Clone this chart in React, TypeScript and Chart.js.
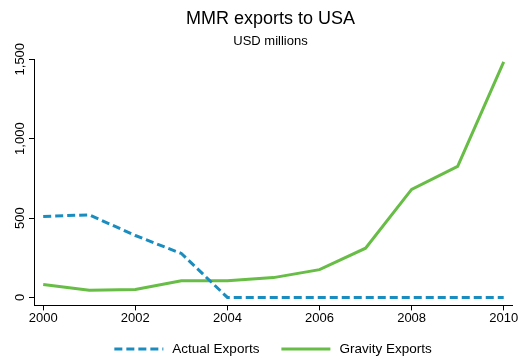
import React, { useEffect, useRef } from "react";
import { Chart, registerables } from "chart.js";

Chart.register(...registerables);

const years = [2000, 2001, 2002, 2003, 2004, 2005, 2006, 2007, 2008, 2009, 2010];
const actualExports = [510, 520, 390, 277, 0, 0, 0, 0, 0, 0, 0];
const gravityExports = [82, 45, 50, 105, 105, 125, 175, 310, 680, 825, 1483];
const yTicks = [0, 500, 1000, 1500];
const xTicks = [2000, 2002, 2004, 2006, 2008, 2010];
const titleText = "MMR exports to USA";
const subtitleText = "USD millions";

const FONT = "'Liberation Sans', Arial, Helvetica, sans-serif";
const BLUE = "#1a8dc0";
const GREEN = "#67bd45";

const yLabelPlugin = {
  id: "yRotLabels",
  afterDraw(chart: any) {
    const ctx = chart.ctx;
    const y = chart.scales.y;
    ctx.save();
    ctx.fillStyle = "#000";
    ctx.font = `13px ${FONT}`;
    ctx.textAlign = "center";
    ctx.textBaseline = "middle";
    for (const v of yTicks) {
      const py = y.getPixelForValue(v);
      ctx.save();
      ctx.translate(20, py);
      ctx.rotate(-Math.PI / 2);
      ctx.fillText(v.toLocaleString("en-US"), 0, 0);
      ctx.restore();
    }
    ctx.restore();
  },
};

const legendPlugin = {
  id: "customLegend",
  afterDraw(chart: any) {
    const ctx = chart.ctx;
    const lineLen = 49;
    const gapText = 9;
    const gapItem = 22;
    const cy = 349;
    ctx.save();
    ctx.font = `13.5px ${FONT}`;
    const items = chart.data.datasets.map((d: any) => ({
      label: d.label,
      color: d.borderColor,
      dash: d.borderDash || [],
      w: lineLen + gapText + ctx.measureText(d.label).width,
    }));
    const total = items.reduce((s: number, it: any) => s + it.w, 0) + gapItem * (items.length - 1);
    const center = (chart.chartArea.left + chart.chartArea.right) / 2;
    let x = center - total / 2;
    for (const it of items) {
      ctx.strokeStyle = it.color;
      ctx.lineWidth = 3;
      ctx.setLineDash(it.dash);
      ctx.beginPath();
      ctx.moveTo(x, cy);
      ctx.lineTo(x + lineLen, cy);
      ctx.stroke();
      ctx.setLineDash([]);
      ctx.fillStyle = "#000";
      ctx.textAlign = "left";
      ctx.textBaseline = "middle";
      ctx.fillText(it.label, x + lineLen + gapText, cy);
      x += it.w + gapItem;
    }
    ctx.restore();
  },
};

export default function App() {
  const ref = useRef<HTMLCanvasElement>(null);
  useEffect(() => {
    document.body.style.margin = "0";
    const chart = new Chart(ref.current!, {
      type: "line",
      data: {
        datasets: [
          {
            label: "Actual Exports",
            data: years.map((x, i) => ({ x, y: actualExports[i] })),
            borderColor: BLUE,
            backgroundColor: BLUE,
            borderWidth: 3,
            borderDash: [8, 4],
            pointRadius: 0,
            tension: 0,
          },
          {
            label: "Gravity Exports",
            data: years.map((x, i) => ({ x, y: gravityExports[i] })),
            borderColor: GREEN,
            backgroundColor: GREEN,
            borderWidth: 3,
            pointRadius: 0,
            tension: 0,
          },
        ],
      },
      options: {
        animation: false,
        responsive: false,
        maintainAspectRatio: false,
        layout: { padding: { left: 29, right: 9, top: 0, bottom: 34 } },
        plugins: {
          title: {
            display: true,
            text: titleText,
            color: "#000",
            font: { family: FONT, size: 18, weight: "normal" },
            padding: { top: 8, bottom: 2 },
          },
          subtitle: {
            display: true,
            text: subtitleText,
            color: "#000",
            font: { family: FONT, size: 13, weight: "normal" },
            padding: { top: 2, bottom: 10 },
          },
          legend: { display: false },
          tooltip: { enabled: false },
        },
        scales: {
          x: {
            type: "linear",
            min: 1999.8,
            max: 2010.18,
            afterBuildTicks(scale: any) {
              scale.ticks = xTicks.map((v) => ({ value: v }));
            },
            ticks: {
              color: "#000",
              font: { family: FONT, size: 13 },
              callback: (v: any) => String(v),
              maxRotation: 0,
              autoSkip: false,
              padding: 0,
            },
            grid: { drawOnChartArea: false, drawTicks: true, tickLength: 5, color: "#000" },
            border: { display: true, color: "#000", width: 1 },
          },
          y: {
            min: -50,
            max: 1500,
            afterBuildTicks(scale: any) {
              scale.ticks = yTicks.map((v) => ({ value: v }));
            },
            ticks: { display: false },
            grid: { drawOnChartArea: false, drawTicks: true, tickLength: 5, color: "#000" },
            border: { display: true, color: "#000", width: 1 },
          },
        },
      },
      plugins: [yLabelPlugin, legendPlugin],
    } as any);
    return () => chart.destroy();
  }, []);
  return (
    <div style={{ width: 521, height: 360, background: "#fff" }}>
      <canvas ref={ref} width={521} height={360} />
    </div>
  );
}
